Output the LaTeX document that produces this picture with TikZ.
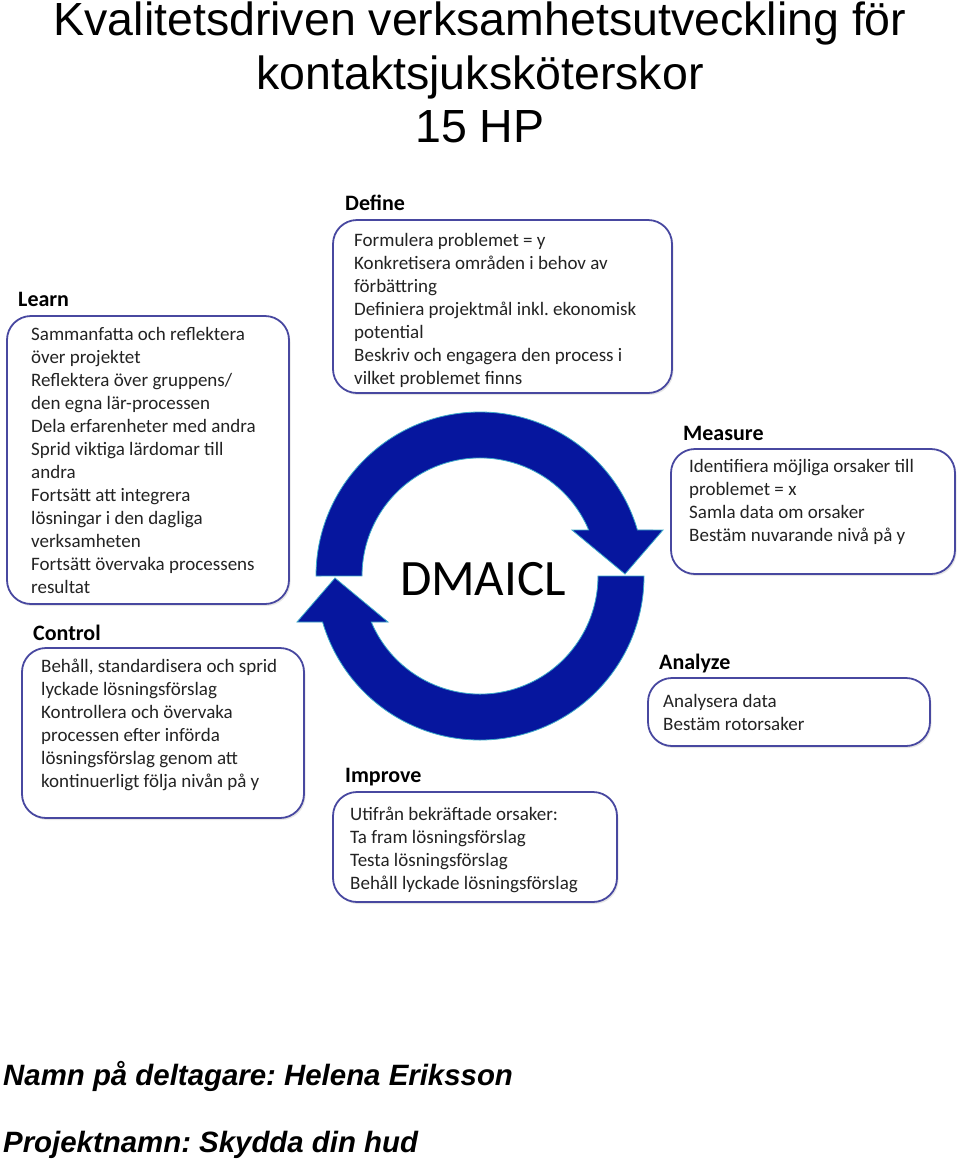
\documentclass[tikz,border=0pt]{standalone}
\usepackage{fontspec}
\setmainfont{Carlito}
\newfontfamily\titlefont{Liberation Sans}
\usetikzlibrary{shadows}
\frenchspacing
\definecolor{ringblue}{RGB}{6,22,158}
\definecolor{ringedge}{RGB}{60,170,200}
\definecolor{boxedge}{RGB}{72,72,160}
\definecolor{bodytext}{RGB}{35,35,35}
\tikzset{
 panel/.style={draw=boxedge, line width=1.8pt, rounded corners=24pt, fill=white,
   drop shadow={opacity=0.2, shadow xshift=1.5pt, shadow yshift=-2pt}},
 head/.style={anchor=base west, inner sep=0pt, font=\fontsize{22}{26}\selectfont\bfseries},
 body/.style={anchor=base west, inner sep=0pt, text=bodytext, font=\fontsize{19}{23}\selectfont},
 ring/.style={fill=ringblue, draw=ringedge, line width=0.8pt, line join=miter},
 titletext/.style={inner sep=0pt, anchor=base, font=\titlefont\fontsize{46.5}{54}\selectfont},
 foot/.style={inner sep=0pt, anchor=base west, font=\titlefont\fontsize{29.4}{34}\selectfont\bfseries\itshape},
}
\newcommand{\bodylines}[1]{\parbox[t]{340pt}{#1}}
\begin{document}
\begin{tikzpicture}[x=1pt,y=-1pt]
\useasboundingbox[fill=white] (0,0) rectangle (960,1163);

% title
\node[titletext] (t1) at (480,35) {Kvalitetsdriven verksamhetsutveckling för};
\node[titletext] (t2) at (480,89) {kontaktsjuksköterskor};
\node[titletext] (t3) at (480,142) {15 HP};

% panels
\draw[panel] (333,220) rectangle (672,393);
\draw[panel] (7,316) rectangle (289,604);
\draw[panel] (671,449) rectangle (955,574);
\draw[panel] (22,648) rectangle (304,818);
\draw[panel] (648,678) rectangle (930,746);
\draw[panel] (333,792) rectangle (617,902);

% headings
\node[head] (hD) at (345,210) {Define};
\node[head] (hL) at (18,306) {Learn};
\node[head] (hM) at (683,440) {Measure};
\node[head] (hC) at (33,640) {Control};
\node[head] (hA) at (659,669) {Analyze};
\node[head] (hI) at (345,782) {Improve};

% body texts
\node[body] (bD) at (354,246) {\bodylines{Formulera problemet = y\\Konkretisera områden i behov av\\förbättring\\Definiera projektmål inkl. ekonomisk\\potential\\Beskriv och engagera den process i\\vilket problemet finns}};
\node[body] (bL) at (31,340) {\bodylines{Sammanfatta och reflektera\\över projektet\\Reflektera över gruppens/\\den egna lär-processen\\Dela erfarenheter med andra\\Sprid viktiga lärdomar till\\andra\\Fortsätt att integrera\\lösningar i den dagliga\\verksamheten\\Fortsätt övervaka processens\\resultat}};
\node[body] (bM) at (689,472) {\bodylines{Identifiera möjliga orsaker till\\problemet = x\\Samla data om orsaker\\Bestäm nuvarande nivå på y}};
\node[body] (bC) at (41,672) {\bodylines{Behåll, standardisera och sprid\\lyckade lösningsförslag\\Kontrollera och övervaka\\processen efter införda\\lösningsförslag genom att\\kontinuerligt följa nivån på y}};
\node[body] (bA) at (663,707) {\bodylines{Analysera data\\Bestäm rotorsaker}};
\node[body] (bI) at (350,820) {\bodylines{Utifrån bekräftade orsaker:\\Ta fram lösningsförslag\\Testa lösningsförslag\\Behåll lyckade lösningsförslag}};

% cycle arrows
\draw[ring] (316,576) arc[start angle=180, end angle=343.7, radius=164]
  -- (663,530) -- (625,574) -- (572,530) -- (588.7,530)
  arc[start angle=337.1, end angle=180, radius=118] -- cycle;
\draw[ring] (644,576) arc[start angle=0, end angle=163.7, radius=164]
  -- (297,622) -- (335,578) -- (388,622) -- (371.3,622)
  arc[start angle=157.1, end angle=0, radius=118] -- cycle;
\node[inner sep=0pt, anchor=base, font=\fontsize{51}{60}\selectfont] (dm) at (483,595) {DMAICL};

% footer
\node[foot] (f1) at (3,1085) {Namn på deltagare: Helena Eriksson};
\node[foot] (f2) at (3,1152) {Projektnamn: Skydda din hud};
\end{tikzpicture}
\end{document}
